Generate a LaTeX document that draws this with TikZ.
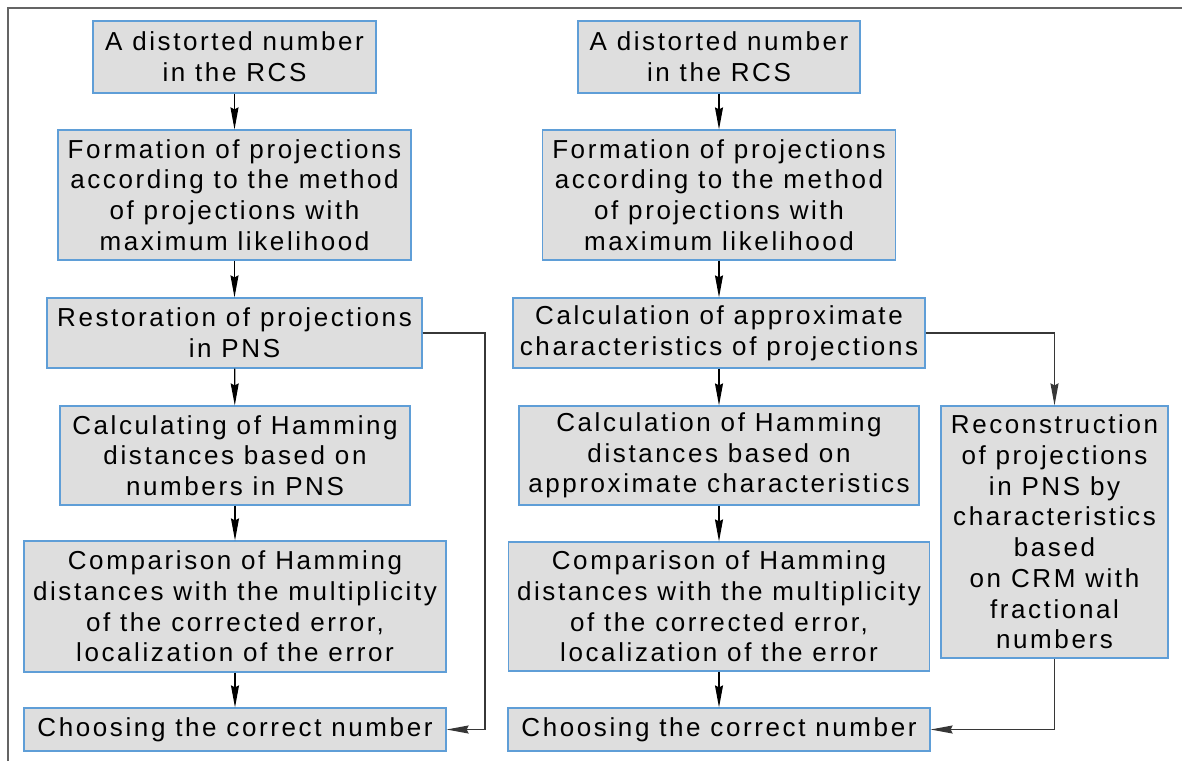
\documentclass[tikz,border=0pt]{standalone}
\usepackage{fontspec}
\setmainfont{Liberation Sans}[LetterSpace=10]
\usetikzlibrary{arrows.meta}
\definecolor{boxfill}{RGB}{222,222,222}
\definecolor{boxline}{RGB}{95,158,215}
\definecolor{framegray}{RGB}{100,100,100}
\definecolor{conngray}{RGB}{55,55,55}
\tikzset{
  box/.style={draw=boxline, fill=boxfill, line width=1.2pt, align=center, inner sep=0pt,
    font=\fontsize{26}{30.7}\selectfont},
  tip/.style={-{Stealth[length=22pt,width=8pt,inset=2pt]}},
  flow/.style={draw=black, line width=1.2pt, tip},
  conn/.style={draw=conngray, line width=1.4pt, tip},
}
\begin{document}
\begin{tikzpicture}[x=1pt,y=-1pt]
\useasboundingbox (0,0) rectangle (1182,761);
\draw[framegray, line width=2pt] (8,761) -- (8,8) -- (1182,8);

% left column
\node[box, minimum width=283pt, minimum height=72pt] (b1) at (234.5,57) {A distorted number\\in the RCS};
\node[box, minimum width=353pt, minimum height=130pt] (b2) at (234.5,195) {Formation of projections\\according to the method\\of projections with\\maximum likelihood};
\node[box, minimum width=375pt, minimum height=70pt] (b3) at (234.5,333) {Restoration of projections\\in PNS};
\node[box, minimum width=350pt, minimum height=99pt] (b4) at (235,455.5) {Calculating of Hamming\\distances based on\\numbers in PNS};
\node[box, minimum width=422pt, minimum height=131pt] (b5) at (235,606.5) {Comparison of Hamming\\distances with the multiplicity\\of the corrected error,\\localization of the error};
\node[box, minimum width=422pt, minimum height=43pt] (b6) at (235,729.5) {Choosing the correct number};

% right column
\node[box, minimum width=282pt, minimum height=72pt] (r1) at (719,57) {A distorted number\\in the RCS};
\node[box, minimum width=353pt, minimum height=130pt] (r2) at (719,195) {Formation of projections\\according to the method\\of projections with\\maximum likelihood};
\node[box, minimum width=412pt, minimum height=70pt] (r3) at (719,333) {Calculation of approximate\\characteristics of projections};
\node[box, minimum width=400pt, minimum height=99pt] (r4) at (719,455.5) {Calculation of Hamming\\distances based on\\approximate characteristics};
\node[box, minimum width=421pt, minimum height=129pt] (r5) at (719,606.5) {Comparison of Hamming\\distances with the multiplicity\\of the corrected error,\\localization of the error};
\node[box, minimum width=422pt, minimum height=43pt] (r6) at (719,729.5) {Choosing the correct number};
\node[box, minimum width=227pt, minimum height=252pt] (rb) at (1054.5,532) {Reconstruction\\of projections\\in PNS by\\characteristics\\based\\on CRM with\\fractional\\numbers};

% vertical flow arrows
\draw[flow] (b1) -- (b2);
\draw[flow] (b2) -- (b3);
\draw[flow] (b3) -- (b4);
\draw[flow] (b4) -- (b5);
\draw[flow] (b5) -- (b6);
\draw[flow] (r1) -- (r2);
\draw[flow] (r2) -- (r3);
\draw[flow] (r3) -- (r4);
\draw[flow] (r4) -- (r5);
\draw[flow] (r5) -- (r6);

% side connectors
\coordinate (lturn) at (485,333);
\draw[conn] (b3.east) -- (lturn) |- (b6.east);
\draw[conn] (r3.east) -| (rb.north);
\draw[conn] (rb.south) |- (r6.east);
\end{tikzpicture}
\end{document}
